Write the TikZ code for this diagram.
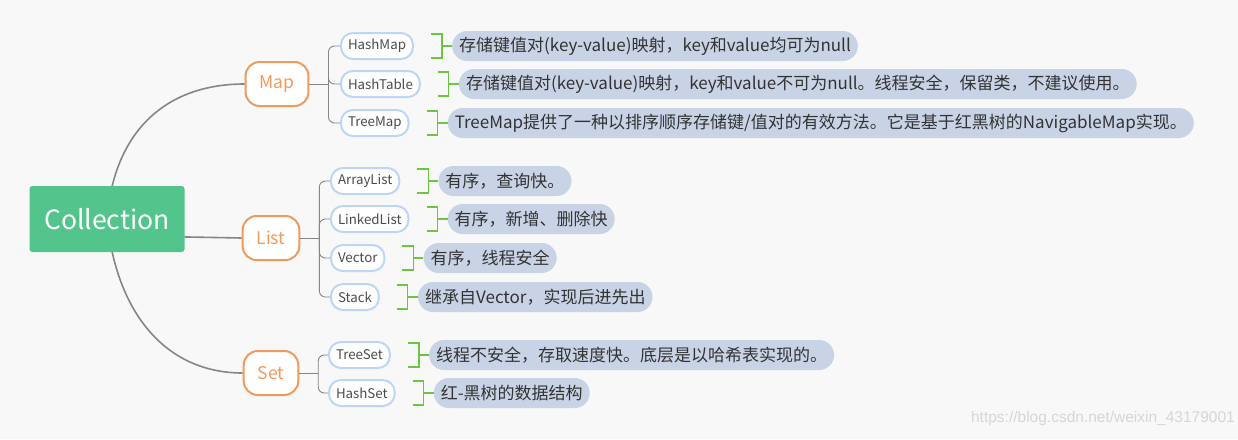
\documentclass[tikz,border=0pt]{standalone}
\usepackage{fontspec}
\setmainfont{Noto Sans CJK SC}
\newfontfamily\markfont{Liberation Sans}
\usetikzlibrary{positioning,calc}
\definecolor{bgcol}{HTML}{F8F8F8}
\definecolor{rootgreen}{HTML}{52C48C}
\definecolor{catorange}{HTML}{F19A5E}
\definecolor{leafblue}{HTML}{BBD6F8}
\definecolor{notefill}{HTML}{C8D3E6}
\definecolor{bracegreen}{HTML}{6CC644}
\definecolor{linegray}{HTML}{868686}
\pgfdeclarelayer{bg}
\pgfdeclarelayer{lines}
\pgfsetlayers{bg,lines,main}
\tikzset{
  root/.style={fill=rootgreen, text=white, rounded corners=3pt, minimum width=155pt,
    minimum height=66pt, font=\fontsize{26.5}{28}\selectfont},
  cat/.style={draw=catorange, line width=2pt, fill=white, text=catorange, rounded corners=14pt,
    minimum height=44pt, inner xsep=14pt, font=\fontsize{17.5}{20}\selectfont},
  leaf/.style={draw=leafblue, line width=2pt, fill=white, text=black!70, rounded corners=12pt,
    minimum height=26pt, inner xsep=7pt, anchor=west, font=\fontsize{13.3}{15}\selectfont},
  note/.style={fill=notefill, text=black!80, rounded corners=15pt, minimum height=30pt,
    inner xsep=7pt, font=\fontsize{17}{19}\selectfont},
  trunk/.style={draw=linegray, line width=1.6pt},
  twig/.style={draw=linegray, line width=0.9pt, rounded corners=6pt},
  brace/.style={draw=bracegreen, line width=1.2pt}
}
\begin{document}
\begin{tikzpicture}[x=1pt, y=-1pt, node distance=38pt]
\begin{pgfonlayer}{bg}
\fill[bgcol] (0,0) rectangle (1238,439);
\end{pgfonlayer}
\useasboundingbox (0,0) rectangle (1238,439);

% root and categories
\node[root] (coll) at (107,219) {Collection};
\node[cat] (map) at (277,84) {Map};
\node[cat] (list) at (271,238) {List};
\node[cat] (set) at (271,373) {Set};

% leaves
\node[leaf] (hashmap) at (340,46) {HashMap};
\node[leaf] (hashtable) at (340,84) {HashTable};
\node[leaf] (treemap) at (340,123) {TreeMap};
\node[leaf] (arraylist) at (330,181) {ArrayList};
\node[leaf] (linkedlist) at (330,219) {LinkedList};
\node[leaf] (vector) at (330,258) {Vector};
\node[leaf] (stack) at (330,297) {Stack};
\node[leaf] (treeset) at (328,355) {TreeSet};
\node[leaf] (hashset) at (328,393) {HashSet};

% notes
\node[note, right=of hashmap] (hashmapnote) {存储键值对(key-value)映射，key和value均可为null};
\node[note, right=of hashtable] (hashtablenote) {存储键值对(key-value)映射，key和value不可为null。线程安全，保留类，不建议使用。};
\node[note, right=of treemap] (treemapnote) {TreeMap提供了一种以排序顺序存储键/值对的有效方法。它是基于红黑树的NavigableMap实现。};
\node[note, right=of arraylist] (arraylistnote) {有序，查询快。};
\node[note, right=of linkedlist] (linkedlistnote) {有序，新增、删除快};
\node[note, right=of vector] (vectornote) {有序，线程安全};
\node[note, right=of stack] (stacknote) {继承自Vector，实现后进先出};
\node[note, right=of treeset] (treesetnote) {线程不安全，存取速度快。底层是以哈希表实现的。};
\node[note, right=of hashset] (hashsetnote) {红-黑树的数据结构};

\node[text=black!16, anchor=east, inner sep=0pt, font=\markfont\fontsize{15.5}{17}\selectfont] (mark) at (1235,418) {https://blog.csdn.net/weixin\_43179001};

% connectors
\begin{pgfonlayer}{lines}
\draw[trunk] (coll.center) .. controls (114,132) and (165,84) .. (map.west);
\draw[trunk] (coll.-13) -- (list.west);
\draw[trunk] (coll.center) .. controls (116,312) and (165,373) .. (set.west);
\end{pgfonlayer}

\draw[twig] (map.east) -- ++(19,0) coordinate (mapfork);
\draw[twig] (list.east) -- ++(19,0) coordinate (listfork);
\draw[twig] (set.east) -- ++(19,0) coordinate (setfork);
\foreach \l/\f in {hashmap/mapfork, hashtable/mapfork, treemap/mapfork,
  arraylist/listfork, linkedlist/listfork, vector/listfork, stack/listfork,
  treeset/setfork, hashset/setfork}
{
  \draw[twig] (\f) |- (\l.west);
  \draw[brace] ($(\l.east)+(17,-12)$) -- ++(11,0) -- ++(0,24) -- ++(-11,0);
  \draw[brace] ($(\l.east)+(28,0)$) -- (\l note.west);
}
\end{tikzpicture}
\end{document}
